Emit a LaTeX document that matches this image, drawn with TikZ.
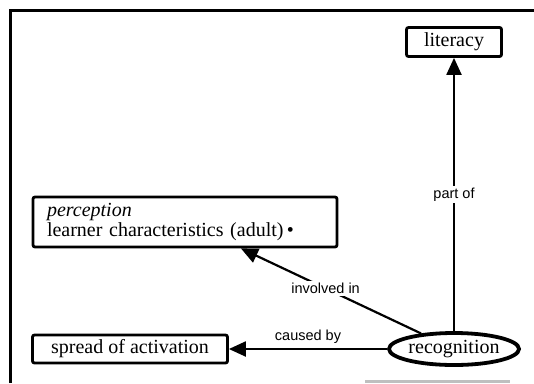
\documentclass[tikz,border=0pt]{standalone}
\usepackage{fontspec}
\setmainfont{Liberation Serif}
\setsansfont{Liberation Sans}
\usetikzlibrary{arrows.meta,shapes.geometric}

\begin{document}
\begin{tikzpicture}[x=1pt,y=-1pt,
  concept/.style={draw, line width=2.8pt, rounded corners=2pt, inner xsep=14pt, inner ysep=3pt, font=\fontsize{20}{20}\selectfont},
  link/.style={line width=2.2pt, -{Triangle[length=17pt,width=15pt]}},
  linklabel/.style={font=\sffamily\fontsize{14.5}{16}\selectfont, inner sep=2pt}]
\useasboundingbox (0,0) rectangle (534,383);
\draw[line width=3pt] (10,383) -- (10,10) -- (534,10);
\fill[gray!50] (365,380) rectangle (510,383);
\node[concept, minimum width=95pt, minimum height=29pt, inner xsep=4pt] (literacy) at (454,42) {literacy};
\node[concept, text width=276pt, align=left, minimum height=50pt] (perception) at (185,222) {\textit{perception}\\learner characteristics (adult)\,•};
\node[concept, minimum width=195pt, minimum height=28pt, inner xsep=4pt] (spread) at (130,349) {spread of activation};
\node[ellipse, draw, line width=3.8pt, inner sep=0pt, minimum width=130pt, minimum height=32pt, font=\fontsize{20}{20}\selectfont] (recognition) at (454,349) {recognition};
\draw[link] (recognition) -- node[linklabel, fill=white] {part of} (literacy);
\draw[link] (recognition) -- node[linklabel, fill=white, pos=0.53] {involved in} (perception);
\draw[link] (recognition) -- node[linklabel, above=2pt] {caused by} (spread);
\end{tikzpicture}
\end{document}
